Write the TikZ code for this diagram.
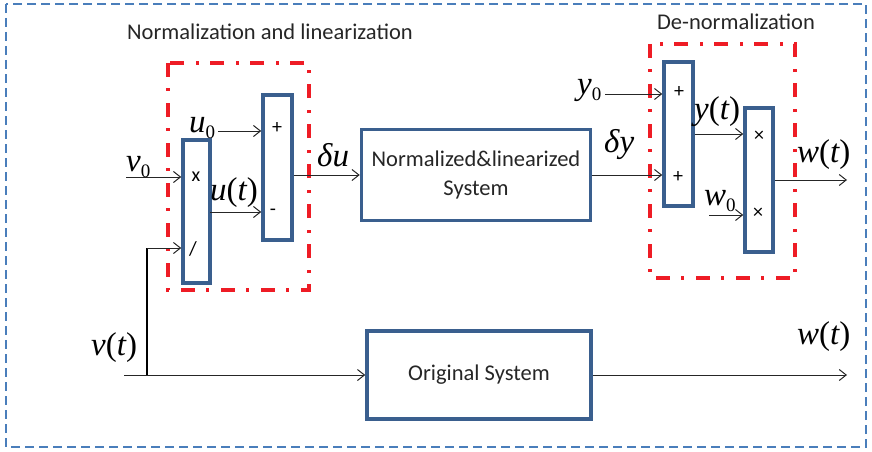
\documentclass[tikz,border=0pt]{standalone}
\usepackage{fontspec}
\setmainfont{Carlito}
\newfontfamily\tms{Liberation Serif}
\usetikzlibrary{arrows.meta}
\definecolor{boxblue}{HTML}{3A5F8E}
\definecolor{frameblue}{HTML}{4A7EBB}
\definecolor{grpred}{HTML}{EE1C25}
% math-like labels set in Times
\newcommand\mv[1]{{\tms\itshape #1}}
\newcommand\mz{\raisebox{-6pt}{\tms\fontsize{19}{19}\selectfont 0}}
\newcommand\mfun[2]{\mv{#1}{\tms(}\mv{#2}{\tms)}}
\tikzset{
  blk/.style={draw=boxblue, line width=3.5pt, inner sep=0pt, fill=white},
  arr/.style={draw=black!85, line width=1pt, -{Straight Barb[length=7pt,width=11pt,line width=1pt]}},
  wire/.style={draw=black, line width=1.5pt},
  grp/.style={draw=grpred, line width=3.2pt, dash pattern=on 14pt off 11pt on 3pt off 12pt},
  frame/.style={draw=frameblue, line width=2.5pt, dash pattern=on 9pt off 5pt},
  lbl/.style={inner sep=0pt, anchor=base west, font=\fontsize{33}{33}\selectfont},
  ttl/.style={inner sep=0pt, font=\fontsize{22.5}{29}\selectfont, align=center, text=black!85},
  sgn/.style={inner sep=0pt, font=\fontsize{20}{20}\selectfont}
}
\begin{document}
\begin{tikzpicture}[x=1pt,y=-1pt]
\useasboundingbox (0,0) rectangle (872,452);
% outer frame and group outlines
\draw[frame] (6,4) rectangle (866,447);
\draw[grp] (168,63) rectangle (309,290);
\draw[grp] (650,44) rectangle (795,278);
\node[ttl] (t1) at (270,32) {Normalization and linearization};
\node[ttl] (t2) at (736,22) {De-normalization};

% blocks
\node[blk, minimum width=27pt, minimum height=143pt] (mul) at (196.5,211.5) {};
\node[blk, minimum width=29pt, minimum height=145pt] (sum) at (277.5,167.5) {};
\node[blk, minimum width=229pt, minimum height=91pt, ttl] (norm) at (476,175) {Normalized\&linearized\\System};
\node[blk, minimum width=224pt, minimum height=88pt, ttl] (orig) at (479,375) {Original System};
\node[blk, minimum width=29pt, minimum height=144pt] (add) at (678.5,134) {};
\node[blk, minimum width=28pt, minimum height=144pt] (prod) at (759,180) {};

% operator signs
\node[sgn] (s1) at (196,177) {x};
\node[sgn] (s2) at (193,249) {/};
\node[sgn] (s3) at (277,128) {+};
\node[sgn] (s4) at (273,212) {-};
\node[sgn] (s5) at (679,92) {+};
\node[sgn] (s6) at (678,177) {+};
\node[sgn] (s7) at (759,136) {×};
\node[sgn] (s8) at (758,213) {×};

% free ends of connectors
\coordinate (v0s) at (126,177);
\coordinate (br) at (147,375);
\coordinate (dv) at (147,248);
\coordinate (vs) at (124,375);
\coordinate (u0s) at (218,131);
\coordinate (ut) at (210,212);
\coordinate (y0s) at (605,94);
\coordinate (w0s) at (709,215);
\coordinate (wo) at (847,180);
\coordinate (wo2) at (847,375);

% connectors
\draw[arr] (v0s) -- (v0s -| mul.west);
\draw[wire] (br) -- (dv);
\draw[arr] (dv) -- (dv -| mul.west);
\draw[arr] (u0s) -- (u0s -| sum.west);
\draw[arr] (ut) -- (ut -| sum.west);
\draw[arr] (norm.west -| sum.east) -- (norm.west);
\draw[arr] (norm.east) -- (norm.east -| add.west);
\draw[arr] (y0s) -- (y0s -| add.west);
\draw[arr] (add.east) -- (add.east -| prod.west);
\draw[arr] (w0s) -- (w0s -| prod.west);
\draw[arr] (prod.east |- wo) -- (wo);
\draw[arr] (vs) -- (orig.west);
\draw[arr] (orig.east) -- (wo2);

% signal labels (placed by their baselines)
\node[lbl] (lv0) at (126,171) {\mv{v}\mz};
\node[lbl] (lu0) at (189,132) {\mv{u}\mz};
\node[lbl] (lut) at (210,200) {\mfun{u}{t}};
\node[lbl] (ldu) at (317,166) {\mv{δu}};
\node[lbl] (ldy) at (604,152) {\mv{δy}};
\node[lbl] (ly0) at (577,94) {\mv{y}\mz};
\node[lbl] (lyt) at (694,119) {\mfun{y}{t}};
\node[lbl] (lw0) at (704,205) {\mv{w}\mz};
\node[lbl] (lwt) at (797,162) {\mfun{w}{t}};
\node[lbl] (lvt) at (91,355) {\mfun{v}{t}};
\node[lbl] (lwt2) at (797,344) {\mfun{w}{t}};
\end{tikzpicture}
\end{document}
